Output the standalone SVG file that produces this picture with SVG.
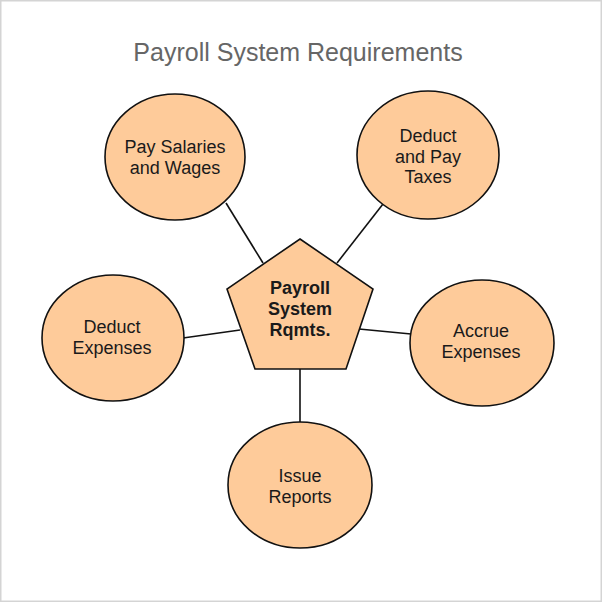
<svg xmlns="http://www.w3.org/2000/svg" width="602" height="602" viewBox="0 0 602 602">
<style>
.node{fill:#FECB9A;stroke:#111;stroke-width:1.6}
.lbl{font-family:"Liberation Sans",Arial,sans-serif;font-size:18px;fill:#1a1a1a;text-anchor:middle}
.bold{font-weight:bold}
.conn{stroke:#111;stroke-width:1.6;fill:none}
</style>
<rect x="0.75" y="0.75" width="600.5" height="600.5" fill="#fff" stroke="#d4d4d4" stroke-width="1.5"/>
<text x="298" y="61" font-family="'Liberation Sans',Arial,sans-serif" font-size="25" fill="#666" text-anchor="middle">Payroll System Requirements</text>
<g id="connectors">
<line class="conn" x1="226" y1="203" x2="263" y2="263"/>
<line class="conn" x1="383" y1="204" x2="337" y2="263"/>
<line class="conn" x1="183" y1="338" x2="240" y2="330"/>
<line class="conn" x1="359" y1="329" x2="411" y2="334"/>
<line class="conn" x1="300" y1="369" x2="300" y2="423"/>
</g>
<g id="center">
<polygon class="node" points="300,239 373,289 346,369 255,369 227,289"/>
<text class="lbl bold"><tspan x="300" y="294">Payroll</tspan><tspan x="300" y="315">System</tspan><tspan x="300" y="336">Rqmts.</tspan></text>
</g>
<g id="pay-salaries">
<ellipse class="node" cx="175" cy="157" rx="70" ry="63"/>
<text class="lbl"><tspan x="175" y="153">Pay Salaries</tspan><tspan x="175" y="174">and Wages</tspan></text>
</g>
<g id="deduct-taxes">
<ellipse class="node" cx="428" cy="155" rx="71" ry="64"/>
<text class="lbl"><tspan x="428" y="142">Deduct</tspan><tspan x="428" y="163">and Pay</tspan><tspan x="428" y="183">Taxes</tspan></text>
</g>
<g id="deduct-expenses">
<ellipse class="node" cx="113" cy="338" rx="71" ry="63"/>
<text class="lbl"><tspan x="112" y="333">Deduct</tspan><tspan x="112" y="354">Expenses</tspan></text>
</g>
<g id="accrue-expenses">
<ellipse class="node" cx="482" cy="343" rx="72" ry="63"/>
<text class="lbl"><tspan x="481" y="337">Accrue</tspan><tspan x="481" y="358">Expenses</tspan></text>
</g>
<g id="issue-reports">
<ellipse class="node" cx="300" cy="485" rx="72" ry="63"/>
<text class="lbl"><tspan x="300" y="482">Issue</tspan><tspan x="300" y="503">Reports</tspan></text>
</g>
</svg>
